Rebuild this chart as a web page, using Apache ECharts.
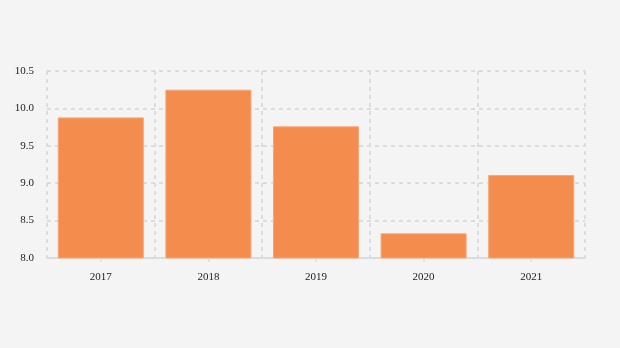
<!DOCTYPE html>
<html><head><meta charset="utf-8">
<script src="https://cdn.jsdelivr.net/npm/echarts@6/dist/echarts.min.js"></script>
<style>html,body{margin:0;padding:0;background:#f4f4f4;}#c{width:620px;height:348px;}</style>
</head><body><div id="c"></div>
<script>
const categories = ['2017','2018','2019','2020','2021'];
const values = [9.88, 10.25, 9.76, 8.33, 9.11];
const yTicks = {min: 8.0, max: 10.5, interval: 0.5};

const chart = echarts.init(document.getElementById('c'), null, {renderer: 'canvas'});
const font = '"Liberation Serif", "Times New Roman", serif';
chart.setOption({
  backgroundColor: '#f4f4f4',
  animation: false,
  grid: {left: 47, right: 35, top: 71, bottom: 90},
  xAxis: {
    type: 'category',
    data: categories,
    axisLine: {lineStyle: {color: '#dcdcdc', width: 2}},
    axisTick: {show: true, alignWithLabel: true, length: 4, lineStyle: {color: '#e2e2e2', width: 2}},
    axisLabel: {color: '#222', fontFamily: font, fontSize: 11, margin: 14},
    splitLine: {show: true, interval: 0, lineStyle: {color: '#dcdcdc', type: [4, 4], width: 2}}
  },
  yAxis: {
    type: 'value',
    min: yTicks.min, max: yTicks.max, interval: yTicks.interval,
    axisLine: {show: false},
    axisTick: {show: false},
    axisLabel: {color: '#222', fontFamily: font, fontSize: 11, margin: 13, formatter: v => v.toFixed(1)},
    splitLine: {show: true, lineStyle: {color: '#dcdcdc', type: [4, 4], width: 2}}
  },
  series: [{
    type: 'bar',
    data: values,
    barWidth: '80%',
    itemStyle: {color: '#f48c4e', borderColor: '#f7a877', borderWidth: 1}
  }]
});
</script></body></html>
